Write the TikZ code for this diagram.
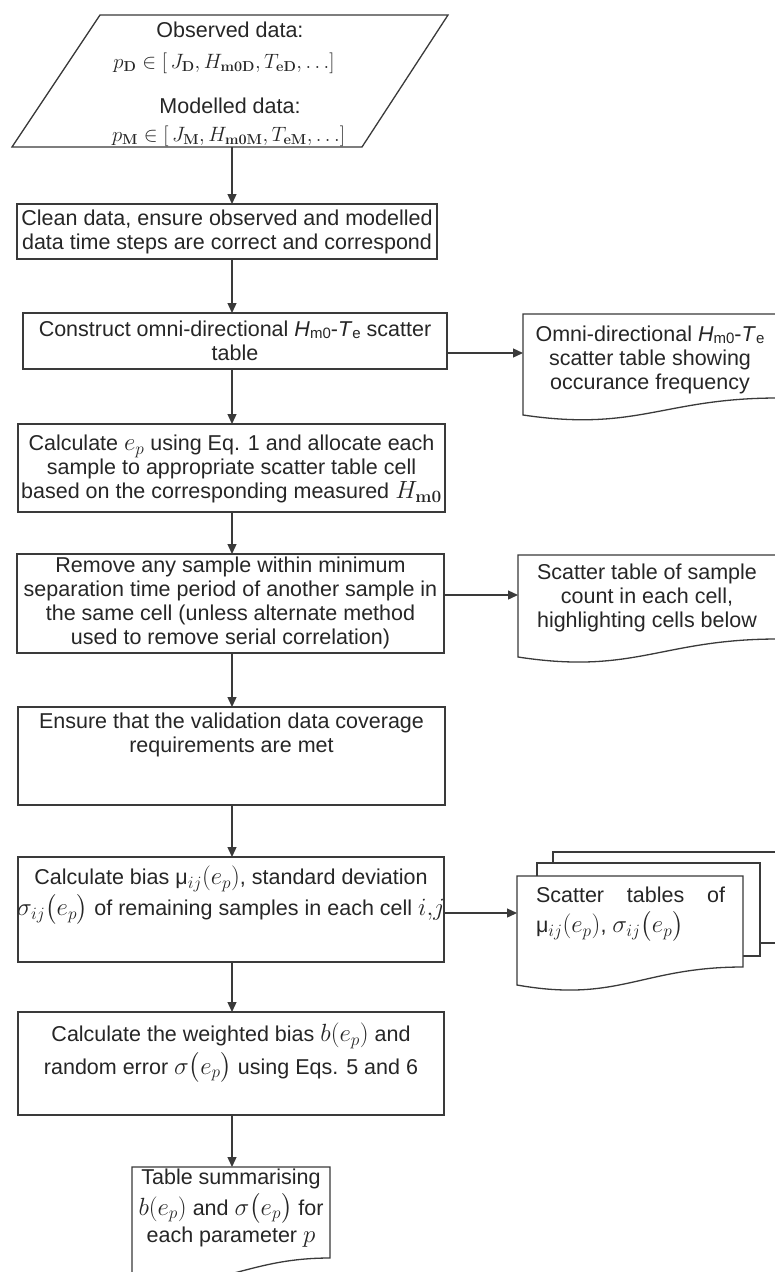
\documentclass[tikz,border=0pt]{standalone}
\usepackage[no-math]{fontspec}
\setmainfont{Liberation Sans}
\usepackage{amsmath}
\usetikzlibrary{arrows.meta}
\definecolor{ink}{HTML}{262626}
\definecolor{edge}{HTML}{3A3A3A}
\newcommand{\hsub}[1]{\raisebox{-0.15ex}{\fontsize{15}{15}\selectfont #1}}
\newcommand{\mm}[1]{{\fontsize{24.5}{24}\selectfont$#1$}}
\newcommand{\mmp}[1]{{\fontsize{22.5}{24}\selectfont$#1$}}
\begin{document}
\begin{tikzpicture}[x=1pt,y=-1pt,
  box/.style={draw=edge, line width=1.3pt, inner sep=0pt, outer sep=0pt},
  ghost/.style={draw=none, inner sep=0pt, outer sep=0pt},
  lbl/.style={align=center, inner sep=0pt, outer sep=0pt, text=ink, font=\fontsize{21.5}{24}\selectfont},
  docline/.style={draw=edge, line width=1.3pt, fill=white},
  arr/.style={draw=edge, line width=1.3pt, -{Triangle[length=10pt,width=9pt]}}]
\fill[white] (0,0) rectangle (775,1272);
\useasboundingbox (0,0) rectangle (775,1272);
\clip (0,0) rectangle (775,1272);

% input parallelogram
\draw[docline] (100,15) -- (448,15) -- (362,147) -- (12,147) -- cycle;
\node[ghost, minimum width=436pt, minimum height=132pt] (inp) at (230,81) {};
\node[lbl, anchor=base] (t1) at (230,37.5) {Observed data:};
\node[lbl, anchor=base] (t2) at (224,68) {\mmp{p_{\mathbf{D}} \in [\,J_{\mathbf{D}}, H_{\mathbf{m0D}}, T_{\mathbf{eD}}, \ldots]}};
\node[lbl, anchor=base] (t3) at (230,113.5) {Modelled data:};
\node[lbl, anchor=base] (t4) at (228.5,141) {\mmp{p_{\mathbf{M}} \in [\,J_{\mathbf{M}}, H_{\mathbf{m0M}}, T_{\mathbf{eM}}, \ldots]}};

% process boxes
\node[box, minimum width=420pt, minimum height=55pt] (b1) at (227,231.5) {};
\node[lbl] (l1) at (227,232) {Clean data, ensure observed and modelled\\data time steps are correct and correspond};

\node[box, minimum width=424pt, minimum height=56pt] (b2) at (235,341) {};
\node[lbl] (l2) at (235,341) {Construct omni-directional \textit{H}\hsub{m0}-\textit{T}\hsub{e} scatter\\table};

\node[box, minimum width=427pt, minimum height=88pt] (b3) at (231.5,468) {};
\node[lbl] (l3) at (231.5,469) {Calculate \mm{e_p} using Eq. 1 and allocate each\\sample to appropriate scatter table cell\\based on the corresponding measured \mm{H_{\mathbf{m0}}}};

\node[box, minimum width=427pt, minimum height=99pt] (b4) at (230.5,603.5) {};
\node[lbl] (l4) at (230.5,603) {Remove any sample within minimum\\separation time period of another sample in\\the same cell (unless alternate method\\used to remove serial correlation)};

\node[box, minimum width=427pt, minimum height=98pt] (b5) at (231.5,756) {};
\node[lbl] (l5) at (231.5,735) {Ensure that the validation data coverage\\requirements are met};

\node[box, minimum width=426pt, minimum height=105pt] (b6) at (231,909.5) {};
\node[lbl] (l6) at (231,895) {Calculate bias μ\mm{_{ij}(e_p)}, standard deviation\\[2pt]\mm{\sigma_{ij}\bigl(e_p\bigr)} of remaining samples in each cell \mm{i{,}j}};

\node[box, minimum width=426pt, minimum height=103pt] (b7) at (231,1063.5) {};
\node[lbl] (l7) at (231,1053) {Calculate the weighted bias \mm{b(e_p)} and\\[3pt]random error \mm{\sigma\bigl(e_p\bigr)} using Eqs. 5 and 6};

% document shapes
\draw[docline] (778,314) -- (523,314) -- (523,415) .. controls (637.75,432) and (663.25,398) .. (778,398) -- cycle;
\node[ghost, minimum width=255pt, minimum height=101pt] (d1) at (650.5,364.5) {};
\node[lbl] (m1) at (650,360) {Omni-directional \textit{H}\hsub{m0}-\textit{T}\hsub{e}\\scatter table showing\\occurance frequency};

\draw[docline] (778,555) -- (518,555) -- (518,657) .. controls (635,675) and (661,639) .. (778,639) -- cycle;
\node[ghost, minimum width=260pt, minimum height=102pt] (d2) at (648,606) {};
\node[lbl] (m2) at (647,598) {Scatter table of sample\\count in each cell,\\highlighting cells below};

\draw[docline] (553,852) rectangle (790,943);
\draw[docline] (537,863) rectangle (760,956);
\draw[docline] (743,876) -- (517,876) -- (517,985) .. controls (618.7,1003) and (641.3,967) .. (743,967) -- cycle;
\node[ghost, minimum width=226pt, minimum height=109pt] (d3) at (630,930.5) {};
\node[lbl, align=left, anchor=west] (m3) at (536,914) {\makebox[189pt][s]{Scatter\hfill tables\hfill of}\\[6pt]μ\mm{_{ij}(e_p)}, \mm{\sigma_{ij}\bigl(e_p\bigr)}};

\draw[docline] (330,1167) -- (132,1167) -- (132,1276) .. controls (221.1,1294) and (240.9,1258) .. (330,1258) -- cycle;
\node[ghost, minimum width=198pt, minimum height=109pt] (d4) at (231,1221.5) {};
\node[lbl] (m4) at (231,1208) {Table summarising\\[4pt]\mm{b(e_p)} and \mm{\sigma\bigl(e_p\bigr)} for\\[2pt]each parameter \mm{p}};

% connectors
\coordinate (col) at (232,0);
\draw[arr] (inp.south -| col) -- (b1.north -| col);
\draw[arr] (b1.south -| col) -- (b2.north -| col);
\draw[arr] (b2.south -| col) -- (b3.north -| col);
\draw[arr] (b3.south -| col) -- (b4.north -| col);
\draw[arr] (b4.south -| col) -- (b5.north -| col);
\draw[arr] (b5.south -| col) -- (b6.north -| col);
\draw[arr] (b6.south -| col) -- (b7.north -| col);
\draw[arr] (b7.south -| col) -- (d4.north -| col);

\coordinate (h1) at (480,353);
\coordinate (h2) at (480,595);
\coordinate (h3) at (480,913);
\draw[arr] (b2.east |- h1) -- (d1.west |- h1);
\draw[arr] (b4.east |- h2) -- (d2.west |- h2);
\draw[arr] (b6.east |- h3) -- (d3.west |- h3);
\end{tikzpicture}
\end{document}
